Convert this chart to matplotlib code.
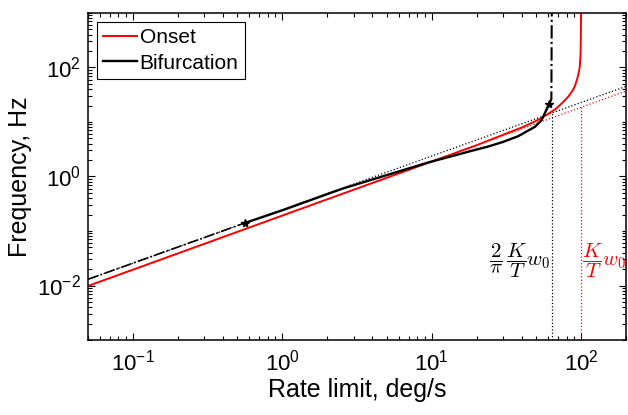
import numpy as np
import matplotlib
matplotlib.use('Agg')
import matplotlib.pyplot as plt
from matplotlib.ticker import FixedLocator, LogLocator, NullFormatter

plt.rcParams['font.family'] = ['Liberation Sans', 'DejaVu Sans']
plt.rcParams['mathtext.fontset'] = 'cm'

# onset curve (red)
onset_x = [0.05, 0.1, 0.3, 1, 3, 10, 20, 30, 40, 51.5, 60, 68.4, 75, 82, 88, 91, 94, 96, 98, 99.2, 99.6, 99.85, 99.95]
onset_y = [0.0098, 0.0195, 0.058, 0.192, 0.57, 1.88, 3.75, 5.8, 7.9, 10.9, 14.0, 17.7, 22.5, 29, 38, 46, 60, 75, 101, 170, 300, 600, 1000]

# bifurcation curve (black), solid part
bif_x = [0.56, 1.0, 2.52, 5.0, 9.55, 13, 18, 24, 30, 38, 44, 49.3, 54.5, 58.5, 61]
bif_y = [0.140, 0.24, 0.597, 1.06, 1.82, 2.28, 2.9, 3.56, 4.3, 5.5, 6.9, 8.2, 10.9, 16.5, 21.2]

# dash-dot parts of the bifurcation curve
bif_low_x = [0.05, 0.56]
bif_low_y = [0.0130, 0.140]
bif_up_x = [61, 63.3, 63.66]
bif_up_y = [21.2, 26, 1000]

# asymptotes (dotted)
asym_black_x = [0.05, 200]
asym_black_y = [0.0130, 45]
asym_red_x = [0.05, 200]
asym_red_y = [0.0098, 37]
wb = 63.66   # 2/pi * K/T * w0
wr = 100.0   # K/T * w0
wb_top = 14.5
wr_top = 18.6

fig = plt.figure(figsize=(6.28, 4.15), dpi=100)
ax = fig.add_axes([88/628, 1 - 340/415, (626 - 88)/628, (340 - 13)/415])

ax.plot(asym_black_x, asym_black_y, ':', color='k', lw=0.9)
ax.plot(asym_red_x, asym_red_y, ':', color='r', lw=0.9)
ax.plot([wb, wb], [1e-3, wb_top], ':', color='k', lw=0.9)
ax.plot([wr, wr], [1e-3, wr_top], ':', color='r', lw=0.9)

ax.plot(onset_x, onset_y, '-', color='r', lw=1.4, label='Onset')
ax.plot(bif_x, bif_y, '-', color='k', lw=1.7, label='Bifurcation')
ax.plot(bif_low_x, bif_low_y, '-.', color='k', lw=1.2)
ax.plot(bif_up_x, bif_up_y, '-.', color='k', lw=1.5)
ax.plot([bif_x[0], bif_x[-1]], [bif_y[0], bif_y[-1]], '*', color='k', ms=6, ls='none')

ax.set_xscale('log')
ax.set_yscale('log')
ax.set_xlim(0.05, 200)
ax.set_ylim(1e-3, 1e3)

ax.xaxis.set_major_locator(FixedLocator([0.1, 1, 10, 100]))
ax.xaxis.set_minor_locator(LogLocator(base=10, subs=np.arange(2, 10), numticks=50))
ax.yaxis.set_major_locator(FixedLocator([1e-2, 1, 1e2]))
ax.yaxis.set_minor_locator(LogLocator(base=10, subs=np.arange(1, 10), numticks=50))
ax.xaxis.set_minor_formatter(NullFormatter())
ax.yaxis.set_minor_formatter(NullFormatter())

ax.tick_params(which='both', direction='in', top=True, right=True, width=0.8, labelsize=16)
ax.tick_params(which='major', length=5)
ax.tick_params(which='minor', length=3)
ax.tick_params(axis='x', pad=7)
ax.tick_params(axis='y', pad=5)
for s in ax.spines.values():
    s.set_linewidth(1.1)

ax.set_xlabel('Rate limit, deg/s', fontsize=18, labelpad=2)
ax.set_ylabel('Frequency, Hz', fontsize=18, labelpad=4)

ax.text(wb * 0.985, 0.028, r'$\dfrac{2}{\pi}\,\dfrac{K}{T}w_0$', color='k',
        fontsize=15, ha='right', va='center')
ax.text(wr * 1.01, 0.028, r'$\dfrac{K}{T}w_0$', color='r',
        fontsize=15, ha='left', va='center')

leg = ax.legend(loc='upper left', bbox_to_anchor=(0.0167, 0.972), borderaxespad=0,
                fontsize=15, fancybox=False, framealpha=1, edgecolor='k',
                handlelength=1.6, handletextpad=0.15, labelspacing=0.3, borderpad=0.3)
leg.get_frame().set_linewidth(0.8)

fig.savefig('out.png', dpi=100)
